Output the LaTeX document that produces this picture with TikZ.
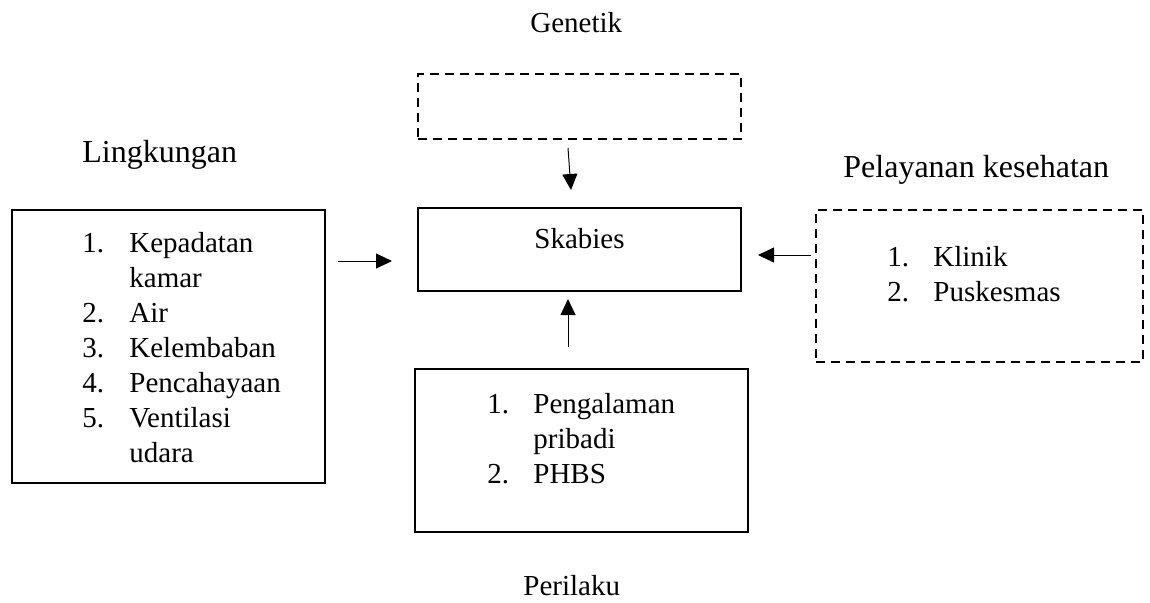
\documentclass[tikz,border=0pt]{standalone}
\usepackage{fontspec}
\setmainfont{Liberation Serif}
\usetikzlibrary{arrows.meta}

\begin{document}
\begin{tikzpicture}[x=0.5pt,y=-0.5pt,
    solidbox/.style={draw,line width=1pt,inner sep=0pt},
    dashbox/.style={draw,line width=1pt,inner sep=0pt,dash pattern=on 4.5pt off 3pt},
    arr/.style={-{Triangle[length=8pt,width=7.5pt]},line width=0.5pt},
    txt/.style={inner sep=0pt,anchor=base west,font=\fontsize{14.5}{17.5}\selectfont},
    ttl/.style={inner sep=0pt,anchor=base west,font=\fontsize{16}{19}\selectfont}]
  \useasboundingbox (0,0) rectangle (1150,602);

  % Boxes
  \node[solidbox,minimum width=156.5pt,minimum height=136.5pt] (lbox) at (168.5,346.5) {};
  \node[solidbox,minimum width=161.5pt,minimum height=41.5pt] (sk) at (579.5,249.5) {};
  \node[dashbox,minimum width=161.5pt,minimum height=32.5pt] (gen) at (579.5,106.5) {};
  \node[dashbox,minimum width=163.5pt,minimum height=76pt] (rbox) at (979.5,286) {};
  \node[solidbox,minimum width=166.5pt,minimum height=81.5pt] (pbox) at (581.5,450.5) {};

  % Titles
  \node[txt] (ttlgen) at (530,32) {Genetik};
  \node[ttl] (ttllingk) at (82,162) {Lingkungan};
  \node[ttl] (ttlyan) at (843,177) {Pelayanan kesehatan};
  \node[txt] (ttlperi) at (523,595) {Perilaku};

  % Texts in the boxes
  \node[txt,anchor=base] (sktext) at (579.5,248) {Skabies};
  \node[txt] (lingklist) at (82,252) {\begin{tabular}[t]{@{}p{23.5pt}@{}l@{}}
    1. & Kepadatan\\
       & kamar\\
    2. & Air\\
    3. & Kelembaban\\
    4. & Pencahayaan\\
    5. & Ventilasi\\
       & udara
  \end{tabular}};
  \node[txt] (yanlist) at (887,266) {\begin{tabular}[t]{@{}p{23pt}@{}l@{}}
    1. & Klinik\\
    2. & Puskesmas
  \end{tabular}};
  \node[txt] (perilist) at (487,413) {\begin{tabular}[t]{@{}p{23pt}@{}l@{}}
    1. & Pengalaman\\
       & pribadi\\
    2. & PHBS
  \end{tabular}};

  % Arrows
  \draw[arr] ([shift={(-11.5,8)}]gen.south) -- ([shift={(-8.5,-17)}]sk.north);
  \draw[arr] ([shift={(12,11.5)}]lbox.east |- sk.west) -- ([shift={(-25,11.5)}]sk.west);
  \draw[arr] ([shift={(-4,5.5)}]rbox.west |- sk.west) -- ([shift={(16,5.5)}]sk.east);
  \draw[arr] ([shift={(-13.5,-21)}]pbox.north) -- ([shift={(-11.5,7)}]sk.south);
\end{tikzpicture}
\end{document}
